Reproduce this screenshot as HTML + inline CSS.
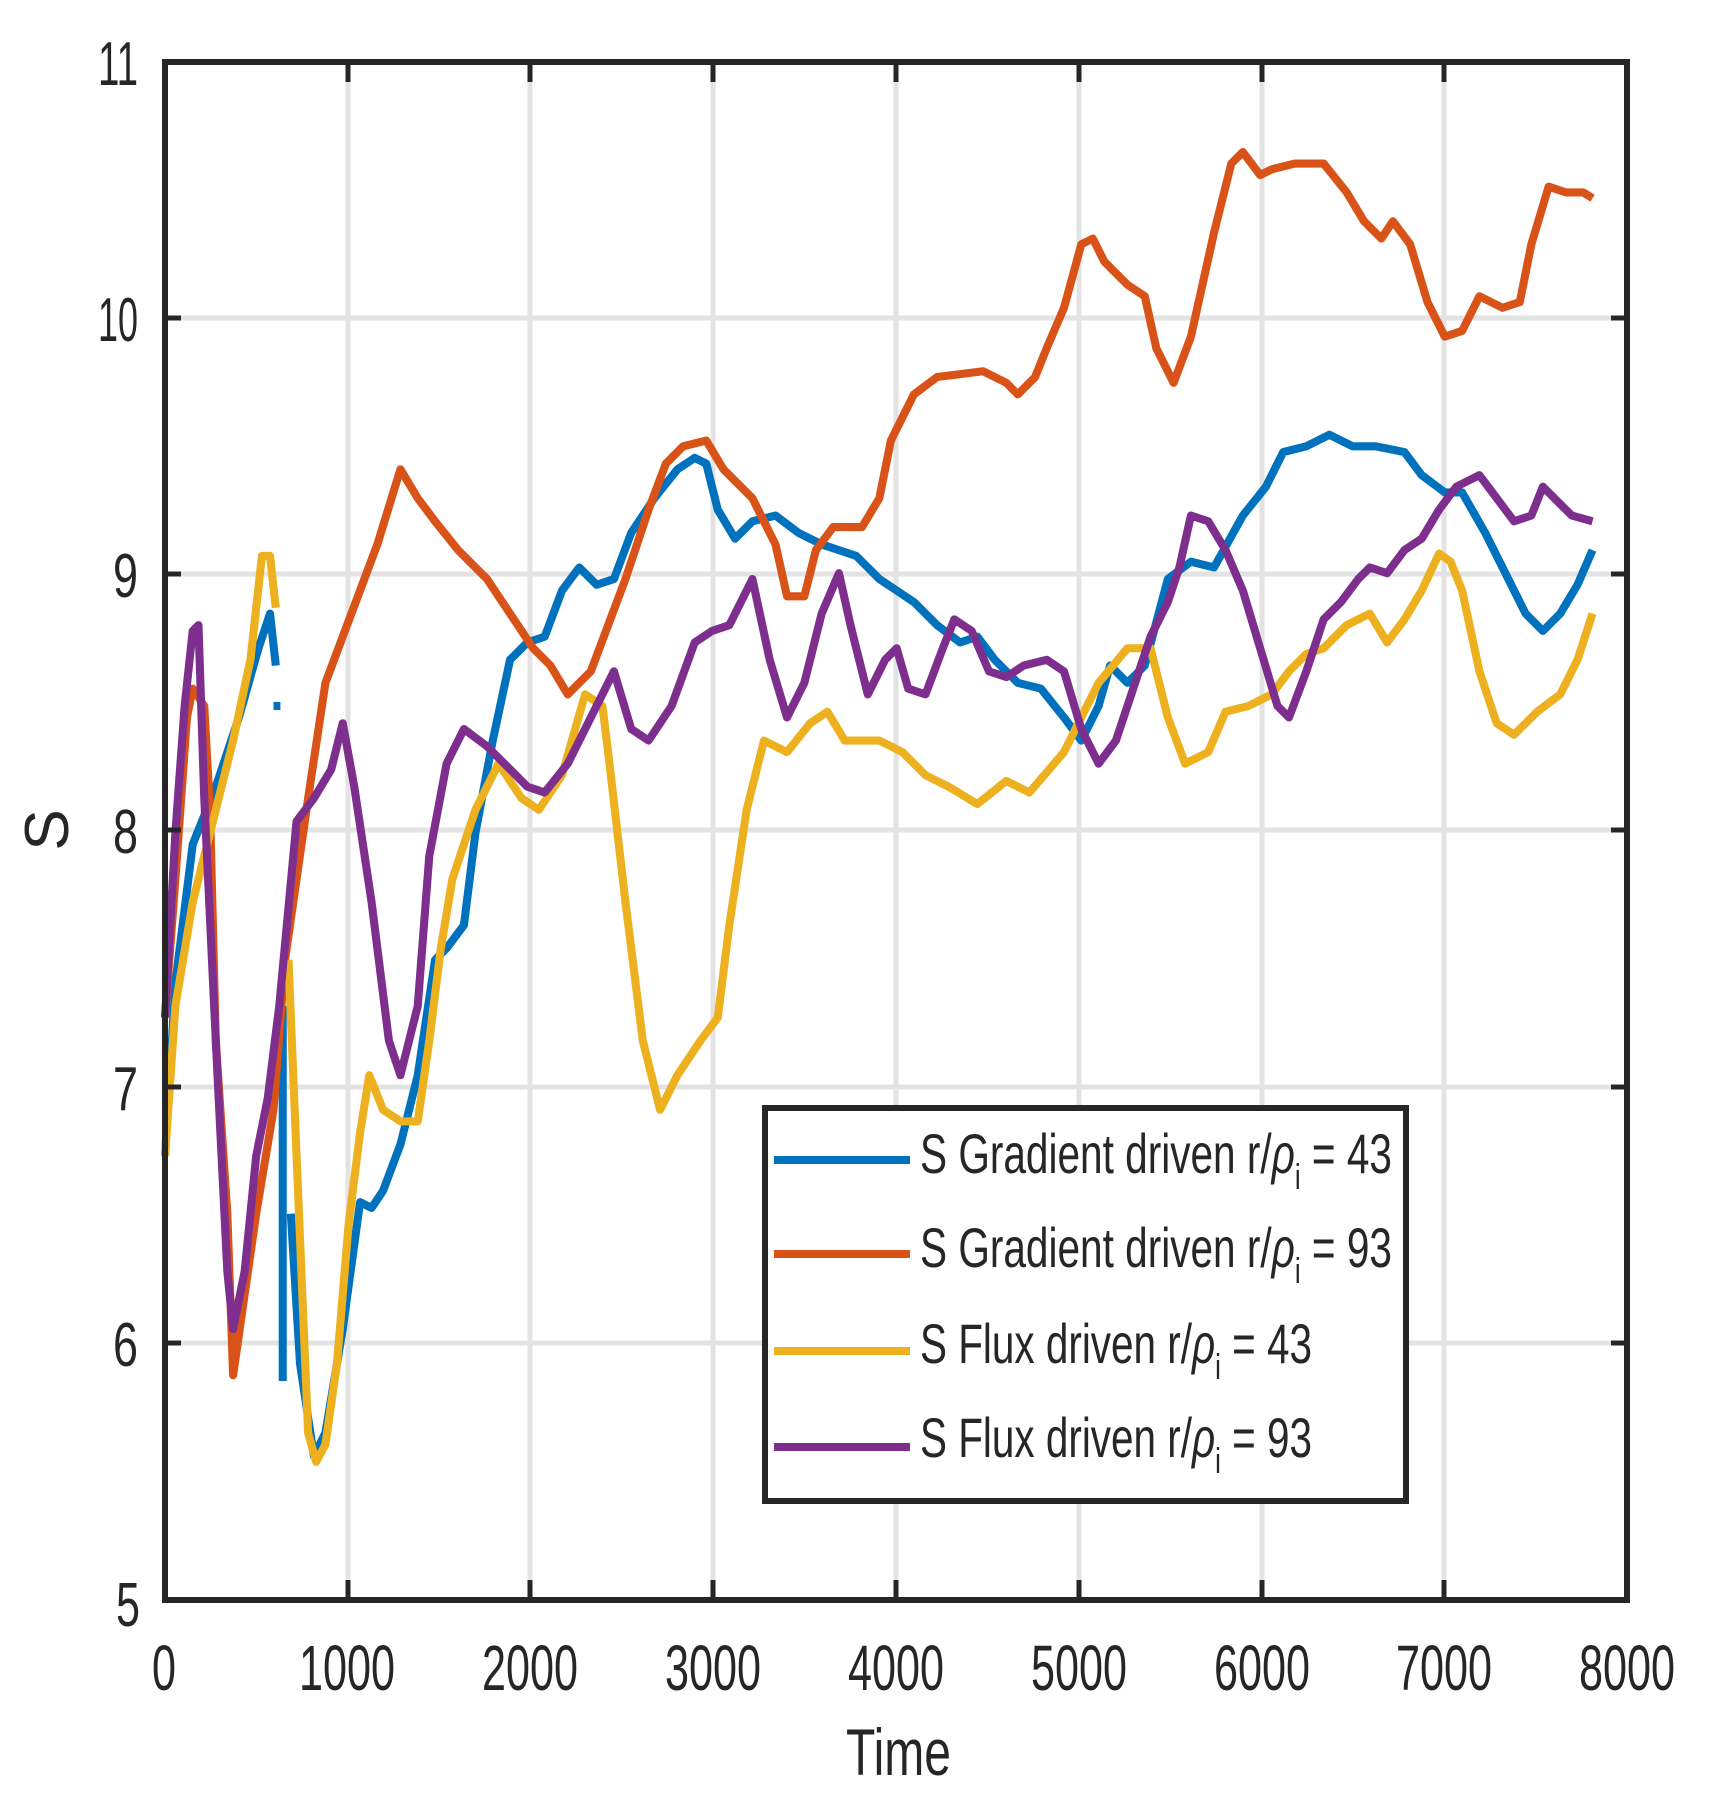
<!DOCTYPE html>
<html><head><meta charset="utf-8"><style>html,body{margin:0;padding:0;background:#fff}svg{display:block}</style></head>
<body>
<svg width="1719" height="1816" viewBox="0 0 1719 1816" xmlns="http://www.w3.org/2000/svg" font-family="Liberation Sans, sans-serif" fill="#262626">
<g stroke="#e3e3e3" stroke-width="5">
<line x1="348" y1="62" x2="348" y2="1600"/><line x1="530" y1="62" x2="530" y2="1600"/><line x1="713" y1="62" x2="713" y2="1600"/><line x1="896" y1="62" x2="896" y2="1600"/><line x1="1079" y1="62" x2="1079" y2="1600"/><line x1="1262" y1="62" x2="1262" y2="1600"/><line x1="1444" y1="62" x2="1444" y2="1600"/>
<line x1="165" y1="318" x2="1627" y2="318"/><line x1="165" y1="574" x2="1627" y2="574"/><line x1="165" y1="830" x2="1627" y2="830"/><line x1="165" y1="1087" x2="1627" y2="1087"/><line x1="165" y1="1343" x2="1627" y2="1343"/>
</g>
<g transform="matrix(1.154,0,0,1.154,2.3,2)" fill="none" stroke-width="7" stroke-linejoin="round">
<polyline stroke="#0072BD" points="141,1000 150,850 165,730 185,680 205,620 222,560 232,530 237,575"/>
<line stroke="#0072BD" x1="235" y1="610" x2="241" y2="610"/>
<line stroke="#0072BD" x1="243" y1="870" x2="243" y2="1195"/>
<polyline stroke="#0072BD" points="250,1050 258,1180 270,1260 280,1240 295,1150 310,1040 320,1045 330,1030 345,990 360,930 375,830 385,820 400,800 410,720 425,640 440,570 455,555 470,550 485,510 500,490 515,505 530,500 545,460 565,430 585,405 600,395 610,400 620,440 635,465 650,450 670,445 690,460 710,470 740,480 760,500 790,520 810,540 830,555 845,550 860,570 880,590 900,595 920,620 935,640 950,610 960,575 975,590 990,575 1010,500 1030,485 1050,490 1075,445 1095,420 1110,390 1130,385 1150,375 1170,385 1190,385 1215,390 1230,410 1250,425 1265,425 1285,460 1300,490 1320,530 1335,545 1350,530 1365,505 1378,475"/>
<polyline stroke="#D95319" points="141,880 150,760 160,620 165,595 175,610 180,700 185,900 195,1050 200,1190 210,1120 220,1050 235,960 245,830 255,760 265,690 280,590 295,550 310,510 325,470 345,405 360,430 375,450 395,475 420,500 440,530 460,560 475,575 490,600 510,580 525,540 540,500 560,440 575,400 590,385 610,380 625,405 650,430 670,470 680,515 695,515 705,475 720,455 745,455 760,430 770,380 790,340 810,325 850,320 870,330 880,340 895,325 905,300 920,265 935,210 945,205 955,225 975,245 990,255 1000,300 1015,330 1030,290 1050,200 1065,140 1075,130 1090,150 1100,145 1120,140 1145,140 1165,165 1180,190 1195,205 1205,190 1220,210 1235,260 1250,290 1265,285 1280,255 1300,265 1315,260 1325,210 1340,160 1355,165 1370,165 1378,170"/>
<polyline stroke="#EDB120" points="141,1000 150,870 165,780 185,700 200,640 215,570 225,480 232,480 237,525"/>
<polyline stroke="#EDB120" points="248,830 255,1000 265,1240 272,1265 280,1250 290,1180 300,1060 310,980 318,930 330,960 345,970 360,970 370,900 380,820 390,760 410,700 430,660 450,690 465,700 485,670 505,600 520,610 525,650 540,780 555,900 570,960 585,930 605,900 620,880 630,800 645,700 660,640 680,650 700,625 715,615 730,640 760,640 780,650 800,670 820,680 845,695 870,675 890,685 920,650 950,590 975,560 995,560 1010,620 1025,660 1045,650 1060,615 1080,610 1100,600 1115,580 1130,565 1145,560 1165,540 1185,530 1200,555 1215,535 1230,510 1245,478 1255,485 1265,510 1280,580 1295,625 1310,635 1330,615 1350,600 1365,570 1378,530"/>
<polyline stroke="#7E2F8E" points="141,880 150,720 158,610 165,545 170,540 175,690 185,900 195,1100 200,1150 210,1100 220,1000 230,950 240,870 255,710 270,690 285,665 295,625 305,680 320,780 335,900 345,930 360,870 370,740 385,660 400,630 420,645 440,665 455,680 470,685 490,660 510,620 530,580 545,630 560,640 580,610 600,555 615,545 630,540 650,500 665,570 680,620 695,590 710,530 725,495 735,540 750,600 765,570 775,560 785,595 800,600 815,560 825,535 840,545 855,580 870,585 885,575 905,570 920,580 935,630 950,660 965,640 980,595 995,550 1010,520 1020,490 1030,445 1045,450 1060,475 1075,510 1090,560 1105,610 1115,620 1130,580 1145,535 1160,520 1175,500 1185,490 1200,495 1215,475 1230,465 1245,440 1260,420 1280,410 1295,430 1310,450 1325,445 1335,420 1345,430 1360,445 1378,450"/>
</g>
<g stroke="#262626" stroke-width="5">
<line x1="348" y1="1600" x2="348" y2="1580"/><line x1="530" y1="1600" x2="530" y2="1580"/><line x1="713" y1="1600" x2="713" y2="1580"/><line x1="896" y1="1600" x2="896" y2="1580"/><line x1="1079" y1="1600" x2="1079" y2="1580"/><line x1="1262" y1="1600" x2="1262" y2="1580"/><line x1="1444" y1="1600" x2="1444" y2="1580"/>
<line x1="348" y1="62" x2="348" y2="82"/><line x1="530" y1="62" x2="530" y2="82"/><line x1="713" y1="62" x2="713" y2="82"/><line x1="896" y1="62" x2="896" y2="82"/><line x1="1079" y1="62" x2="1079" y2="82"/><line x1="1262" y1="62" x2="1262" y2="82"/><line x1="1444" y1="62" x2="1444" y2="82"/>
<line x1="165" y1="318" x2="181" y2="318"/><line x1="165" y1="574" x2="181" y2="574"/><line x1="165" y1="830" x2="181" y2="830"/><line x1="165" y1="1087" x2="181" y2="1087"/><line x1="165" y1="1343" x2="181" y2="1343"/>
<line x1="1627" y1="318" x2="1611" y2="318"/><line x1="1627" y1="574" x2="1611" y2="574"/><line x1="1627" y1="830" x2="1611" y2="830"/><line x1="1627" y1="1087" x2="1611" y2="1087"/><line x1="1627" y1="1343" x2="1611" y2="1343"/>
</g>
<rect x="165" y="62" width="1462" height="1538" fill="none" stroke="#262626" stroke-width="6"/>
<g font-size="62" text-anchor="end">
<text x="138" y="85" textLength="40" lengthAdjust="spacingAndGlyphs">11</text>
<text x="138" y="341" textLength="40" lengthAdjust="spacingAndGlyphs">10</text>
<text x="138" y="597" textLength="25" lengthAdjust="spacingAndGlyphs">9</text>
<text x="138" y="853" textLength="25" lengthAdjust="spacingAndGlyphs">8</text>
<text x="138" y="1110" textLength="25" lengthAdjust="spacingAndGlyphs">7</text>
<text x="138" y="1366" textLength="25" lengthAdjust="spacingAndGlyphs">6</text>
<text x="140" y="1626" textLength="24" lengthAdjust="spacingAndGlyphs">5</text>
</g>
<g font-size="64">
<text x="152" y="1690" textLength="24" lengthAdjust="spacingAndGlyphs">0</text>
<text x="299" y="1690" textLength="96" lengthAdjust="spacingAndGlyphs">1000</text>
<text x="482" y="1690" textLength="96" lengthAdjust="spacingAndGlyphs">2000</text>
<text x="665" y="1690" textLength="96" lengthAdjust="spacingAndGlyphs">3000</text>
<text x="848" y="1690" textLength="96" lengthAdjust="spacingAndGlyphs">4000</text>
<text x="1031" y="1690" textLength="96" lengthAdjust="spacingAndGlyphs">5000</text>
<text x="1214" y="1690" textLength="96" lengthAdjust="spacingAndGlyphs">6000</text>
<text x="1396" y="1690" textLength="96" lengthAdjust="spacingAndGlyphs">7000</text>
<text x="1579" y="1690" textLength="96" lengthAdjust="spacingAndGlyphs">8000</text>
</g>
<text x="846" y="1775" font-size="66" textLength="105" lengthAdjust="spacingAndGlyphs">Time</text>
<text transform="translate(68,830) rotate(-90)" font-size="62" text-anchor="middle">S</text>
<rect x="765" y="1108" width="641" height="393" fill="#fff" stroke="#262626" stroke-width="6"/>
<g stroke-width="8">
<line x1="774" y1="1160" x2="910" y2="1160" stroke="#0072BD"/>
<line x1="774" y1="1254" x2="910" y2="1254" stroke="#D95319"/>
<line x1="774" y1="1351" x2="910" y2="1351" stroke="#EDB120"/>
<line x1="774" y1="1447" x2="910" y2="1447" stroke="#7E2F8E"/>
</g>
<g font-size="56">
<text x="920" y="1173" textLength="472" lengthAdjust="spacingAndGlyphs">S Gradient driven r/<tspan font-style="italic">ρ</tspan><tspan font-size="36" dy="16">i</tspan><tspan dy="-16"> = 43</tspan></text>
<text x="920" y="1267" textLength="472" lengthAdjust="spacingAndGlyphs">S Gradient driven r/<tspan font-style="italic">ρ</tspan><tspan font-size="36" dy="16">i</tspan><tspan dy="-16"> = 93</tspan></text>
<text x="920" y="1363" textLength="392" lengthAdjust="spacingAndGlyphs">S Flux driven r/<tspan font-style="italic">ρ</tspan><tspan font-size="36" dy="16">i</tspan><tspan dy="-16"> = 43</tspan></text>
<text x="920" y="1457" textLength="392" lengthAdjust="spacingAndGlyphs">S Flux driven r/<tspan font-style="italic">ρ</tspan><tspan font-size="36" dy="16">i</tspan><tspan dy="-16"> = 93</tspan></text>
</g>
</svg>
</body></html>
